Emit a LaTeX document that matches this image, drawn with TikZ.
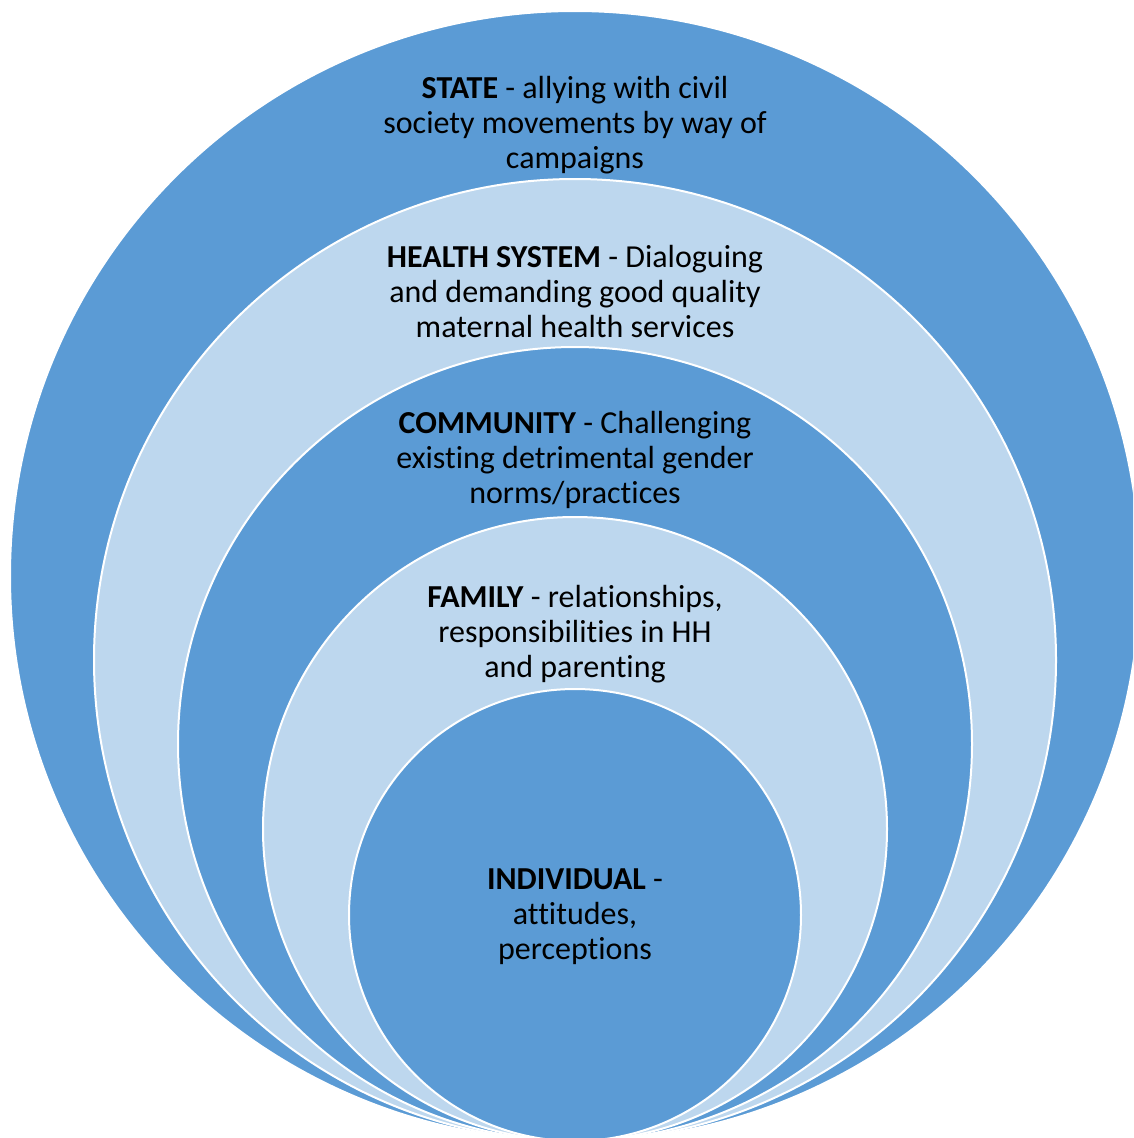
\documentclass[tikz,border=0pt]{standalone}
\usepackage{fontspec}
\setmainfont{Carlito}[Ligatures=NoCommon]
\definecolor{ringblue}{HTML}{5B9BD5}
\definecolor{ringlight}{HTML}{BDD7EE}
\tikzset{
  ring/.style={circle,draw=white,line width=2pt,inner sep=0pt,minimum size=#1},
  label/.style={align=center,text=black,inner sep=0pt,font=\fontsize{32}{35}\selectfont}
}

\begin{document}
\begin{tikzpicture}[x=1pt,y=-1pt]
      \useasboundingbox (0,0) rectangle (1133,1138);
      \clip (0,0) rectangle (1133,1138);

      \node [ring=1130pt,fill=ringblue] (state) at (575,576) {};
      \node [ring=962pt,fill=ringlight] (health) at (575,660) {};
      \node [ring=794pt,fill=ringblue] (community) at (575,744) {};
      \node [ring=624pt,fill=ringlight] (family) at (575,829) {};
      \node [ring=452pt,fill=ringblue] (individual) at (575,915) {};

      \node [label] (t1) at (575,125) {\textbf{STATE} - allying with civil\\society movements by way of\\campaigns};
      \node [label] (t2) at (575,292) {\textbf{HEALTH SYSTEM} - Dialoguing\\and demanding good quality\\maternal health services};
      \node [label] (t3) at (575,460) {\textbf{COMMUNITY} - Challenging\\existing detrimental gender\\norms/practices};
      \node [label] (t4) at (575,634) {\textbf{FAMILY} - relationships,\\responsibilities in HH\\and parenting};
      \node [label] (t5) at (575,917) {\textbf{INDIVIDUAL} -\\attitudes,\\perceptions};
    \end{tikzpicture}
\end{document}
